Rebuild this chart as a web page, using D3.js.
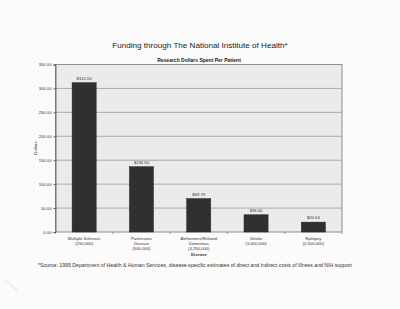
<!DOCTYPE html>
<html><head><meta charset="utf-8">
<script src="https://cdn.jsdelivr.net/npm/d3@7"></script>
<style>
html,body{margin:0;padding:0;background:#fbfbfb;}
svg{display:block;font-family:"Liberation Sans",Arial,sans-serif;}
</style></head>
<body>
<svg id="c" width="400" height="309"></svg>
<script>
const categories = [
  ["Multiple Sclerosis", "(250,000)"],
  ["Parkinsons", "Disease", "(500,000)"],
  ["Alzheimers/Related", "Dementias", "(4,250,000)"],
  ["Stroke", "(3,000,000)"],
  ["Epilepsy", "(2,500,000)"]
];
const values = [312.00, 136.50, 69.79, 36.00, 20.64];
const valueLabels = ["$312.00", "$136.50", "$69.79", "$36.00", "$20.64"];
const yTicks = [0, 50, 100, 150, 200, 250, 300, 350];

const svg = d3.select("#c");
const m = {left: 55.5, right: 342, top: 64.5, bottom: 232};

const x = d3.scaleBand().domain(d3.range(categories.length)).range([m.left, m.right]).paddingInner(0.58).paddingOuter(0.29);
const y = d3.scaleLinear().domain([0, 350]).range([m.bottom, m.top]);

// titles
svg.append("text").attr("x", 200).attr("y", 48).attr("text-anchor", "middle")
  .attr("font-size", 8.1).attr("fill", "#222").text("Funding through The National Institute of Health*");
svg.append("text").attr("x", 199).attr("y", 62).attr("text-anchor", "middle")
  .attr("font-size", 5).attr("font-weight", "bold").attr("fill", "#222").text("Research Dollars Spent Per Patient");

// plot background
svg.append("rect").attr("x", m.left).attr("y", m.top).attr("width", m.right - m.left).attr("height", m.bottom - m.top)
  .attr("fill", "#ebebeb").attr("stroke", "#777").attr("stroke-width", 0.8);

// grid
svg.append("g").selectAll("line").data(yTicks.filter(d => d > 0 && d < 350)).join("line")
  .attr("x1", m.left).attr("x2", m.right).attr("y1", d => y(d)).attr("y2", d => y(d))
  .attr("stroke", "#9a9a9a").attr("stroke-width", 0.8);

// y axis
const ya = svg.append("g").attr("transform", `translate(${m.left},0)`)
  .call(d3.axisLeft(y).tickValues(yTicks).tickFormat(d => d3.format(".2f")(d)).tickSize(2).tickPadding(2));
ya.select(".domain").attr("stroke", "#555").attr("stroke-width", 0.8);
ya.selectAll(".tick line").attr("stroke", "#555");
ya.selectAll("text").attr("font-size", 4.2).attr("fill", "#333").attr("font-family", "Liberation Sans, Arial, sans-serif");

svg.append("text").attr("transform", "translate(37,148) rotate(-90)").attr("text-anchor", "middle")
  .attr("font-size", 4.3).attr("fill", "#333").text("Dollars");

// bars
svg.append("g").selectAll("rect").data(values).join("rect")
  .attr("x", (d, i) => x(i)).attr("width", x.bandwidth())
  .attr("y", d => y(d)).attr("height", d => y(0) - y(d))
  .attr("fill", "#303030").attr("stroke", "#222").attr("stroke-width", 0.5);

svg.append("g").selectAll("text").data(values).join("text")
  .attr("x", (d, i) => x(i) + x.bandwidth() / 2).attr("y", d => y(d) - 3)
  .attr("text-anchor", "middle").attr("font-size", 4.2).attr("fill", "#333")
  .text((d, i) => valueLabels[i]);

// x axis separators
svg.append("g").selectAll("line").data(d3.range(categories.length + 1)).join("line")
  .attr("x1", i => m.left + i * (m.right - m.left) / categories.length)
  .attr("x2", i => m.left + i * (m.right - m.left) / categories.length)
  .attr("y1", m.bottom).attr("y2", m.bottom + 2).attr("stroke", "#666").attr("stroke-width", 0.6);

// category labels
const cl = svg.append("g").selectAll("text").data(categories).join("text")
  .attr("x", (d, i) => x(i) + x.bandwidth() / 2).attr("y", 240)
  .attr("text-anchor", "middle").attr("font-size", 4.2).attr("fill", "#333");
cl.selectAll("tspan").data(d => d).join("tspan")
  .attr("x", function() { return d3.select(this.parentNode).attr("x"); })
  .attr("dy", (d, i) => i === 0 ? 0 : 5.2).text(d => d);

svg.append("text").attr("x", 199).attr("y", 256).attr("text-anchor", "middle")
  .attr("font-size", 4.2).attr("font-weight", "bold").attr("fill", "#333").text("Disease");

svg.append("text").attr("x", 38).attr("y", 267).attr("font-size", 5.2).attr("fill", "#333")
  .attr("textLength", 314).attr("lengthAdjust", "spacingAndGlyphs")
  .text("*Source:  1995 Department of Health & Human Services, disease-specific estimates of direct and indirect costs of Illness and NIH support");

// faint pen mark
svg.append("line").attr("x1", 5).attr("y1", 280).attr("x2", 18).attr("y2", 291)
  .attr("stroke", "#ccc").attr("stroke-width", 0.6);
</script>
</body></html>
